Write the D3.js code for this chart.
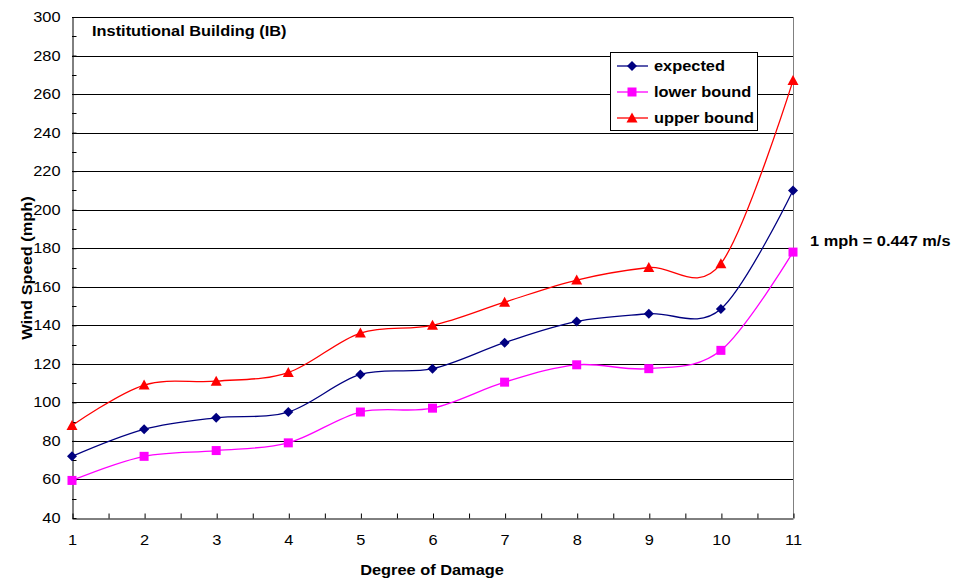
<!DOCTYPE html>
<html><head><meta charset="utf-8">
<script src="https://cdn.jsdelivr.net/npm/d3@7"></script>
<style>body{margin:0;background:#fff}svg{display:block;font-family:"Liberation Sans",Arial,sans-serif}</style>
</head><body>
<svg id="c" width="953" height="579"></svg>
<script>
const categories = [1,2,3,4,5,6,7,8,9,10,11];
const expected = [72,86,92,95,114.5,117.5,131,142,146,148.5,210];
const lowerBound = [59.5,72,75,79,95,97,110.5,119.5,117.5,127,178];
const upperBound = [88,109,111,115.5,136,140,152,163.5,170,172,267];
const yTicks = [40,60,80,100,120,140,160,180,200,220,240,260,280,300];
const seriesNames = ["expected","lower bound","upper bound"];

const SX = 1.17;
const svg = d3.select("#c");
const L=72,R=793,T=17,B=518;
const x = d3.scaleLinear().domain([1,11]).range([L,R]);
const y = d3.scaleLinear().domain([40,300]).range([B,T]);

// stretched text helper
function txt(parent, px, py, str, opts={}){
  const g = parent.append("g").attr("transform",`translate(${px},${py})${opts.rot?` rotate(${opts.rot})`:""} scale(${SX},1)`);
  return g.append("text").attr("x",0).attr("y",0)
    .attr("font-size",opts.size||14).attr("font-weight",opts.bold?"bold":"normal")
    .attr("text-anchor",opts.anchor||"start").attr("fill","#000").text(str);
}

// gridlines
svg.append("g").selectAll("line").data(yTicks.filter(v=>v>40)).join("line")
  .attr("x1",L).attr("x2",R).attr("y1",d=>Math.round(y(d))+0.5).attr("y2",d=>Math.round(y(d))+0.5)
  .attr("stroke","#000").attr("stroke-width",1);
// right border
svg.append("line").attr("x1",R+0.5).attr("x2",R+0.5).attr("y1",T).attr("y2",B).attr("stroke","#808080");

// y axis (ticks inward)
const yAxis = d3.axisLeft(y).tickValues(yTicks).tickSizeInner(-4).tickSizeOuter(0).tickPadding(12);
const gy = svg.append("g").attr("transform",`translate(${L+0.5},0)`).call(yAxis);
gy.select(".domain").attr("stroke","#000");
gy.selectAll(".tick text").each(function(){
  const t = d3.select(this); const xx = +t.attr("x");
  t.attr("x",0).attr("transform",`translate(${xx},0) scale(${SX},1)`)
   .attr("font-size",14).attr("fill","#000").attr("font-family","Liberation Sans, Arial, sans-serif");
});
// minor y ticks
svg.append("g").selectAll("line").data(d3.range(50,300,20)).join("line")
  .attr("x1",L).attr("x2",L+4.5).attr("y1",d=>Math.round(y(d))+0.5).attr("y2",d=>Math.round(y(d))+0.5).attr("stroke","#000");

// x axis (ticks inward, every half category)
const xAxis = d3.axisBottom(x).tickValues(d3.range(1,11.01,0.5)).tickSizeInner(-5).tickSizeOuter(0).tickPadding(17)
  .tickFormat(d=>Number.isInteger(d)?d:"");
const gx = svg.append("g").attr("transform",`translate(0,${B+0.5})`).call(xAxis);
gx.select(".domain").attr("stroke","#000");
gx.selectAll(".tick text").each(function(){
  const t = d3.select(this);
  t.attr("transform",`scale(${SX},1)`)
   .attr("font-size",14).attr("fill","#000").attr("font-family","Liberation Sans, Arial, sans-serif");
});
gx.selectAll(".tick line").attr("transform","translate(0.5,0)");

// series
const series = [
  {name:seriesNames[0], vals:expected, color:"#000080", shape:"diamond"},
  {name:seriesNames[1], vals:lowerBound, color:"#FF00FF", shape:"square"},
  {name:seriesNames[2], vals:upperBound, color:"#FF0000", shape:"triangle"}
];
const line = d3.line().x((d,i)=>x(categories[i])).y(d=>y(d)).curve(d3.curveCatmullRom.alpha(0));
function marker(g, shape, color){
  if(shape==="diamond") g.append("path").attr("d","M0,-5L5,0L0,5L-5,0Z").attr("fill",color);
  else if(shape==="square") g.append("rect").attr("x",-4.5).attr("y",-4.5).attr("width",9).attr("height",9).attr("fill",color);
  else g.append("path").attr("d","M0,-5.5L5.5,4.5L-5.5,4.5Z").attr("fill",color);
}
series.forEach(s=>{
  svg.append("path").attr("d",line(s.vals)).attr("fill","none").attr("stroke",s.color).attr("stroke-width",1.3);
  s.vals.forEach((v,i)=>{
    const g = svg.append("g").attr("transform",`translate(${x(categories[i])},${y(v)})`);
    marker(g,s.shape,s.color);
  });
});

// legend
const lg = svg.append("g");
lg.append("rect").attr("x",610.5).attr("y",52.5).attr("width",147).attr("height",78).attr("fill","#fff").attr("stroke","#000");
series.forEach((s,i)=>{
  const yy = 66+i*26;
  lg.append("line").attr("x1",617).attr("x2",648).attr("y1",yy).attr("y2",yy).attr("stroke",s.color).attr("stroke-width",1.3);
  const g = lg.append("g").attr("transform",`translate(632,${yy})`);
  marker(g,s.shape,s.color);
  txt(lg,654,yy+5,s.name,{bold:true,size:14});
});

// texts
txt(svg,92,36,"Institutional Building (IB)",{bold:true,size:14});
txt(svg,810,246,"1 mph = 0.447 m/s",{bold:true,size:14});
txt(svg,432,575,"Degree of Damage",{bold:true,size:14,anchor:"middle"});
txt(svg,32,268,"Wind Speed (mph)",{bold:true,size:14,anchor:"middle",rot:-90});
</script>
</body></html>
